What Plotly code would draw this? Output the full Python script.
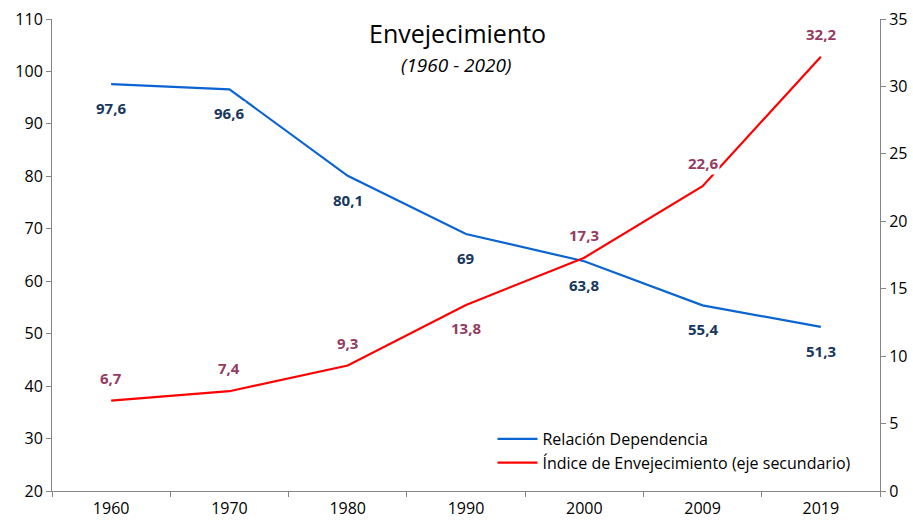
import plotly.graph_objects as go

# Series data
years = ["1960", "1970", "1980", "1990", "2000", "2009", "2019"]
dependencia = [97.6, 96.6, 80.1, 69, 63.8, 55.4, 51.3]
envejecimiento = [6.7, 7.4, 9.3, 13.8, 17.3, 22.6, 32.2]
dep_labels = ["97,6", "96,6", "80,1", "69", "63,8", "55,4", "51,3"]
env_labels = ["6,7", "7,4", "9,3", "13,8", "17,3", "22,6", "32,2"]
# label placement relative to its point: +1 above, -1 below
env_side = [1, 1, 1, -1, 1, 1, 1]

FONT = "Open Sans"
AXIS_GREY = "#868686"
BLUE = "#0A64D2"
RED = "#FF0000"
BLUE_TXT = "#17375E"
RED_TXT = "#943C64"

TOP, BOTTOM = 19, 491  # plot area edges in px
PLOT_H = BOTTOM - TOP


def paper_y(px):
    return 1 - (px - TOP) / PLOT_H


fig = go.Figure()
fig.add_trace(go.Scatter(
    x=years, y=dependencia, mode="lines", name="Relación Dependencia",
    line=dict(color=BLUE, width=2.2), yaxis="y"))
fig.add_trace(go.Scatter(
    x=years, y=envejecimiento, mode="lines",
    name="Índice de Envejecimiento (eje secundario)",
    line=dict(color=RED, width=2.2), yaxis="y2"))

annotations = []
# category positions are addressed by index so numeric-looking names stay categorical
for i, (v, t) in enumerate(zip(dependencia, dep_labels)):
    annotations.append(dict(
        x=i, y=v, xref="x", yref="y", text=t, showarrow=False,
        yshift=-24, bgcolor="white", borderpad=1,
        font=dict(family=FONT, size=15, color=BLUE_TXT, weight="bold")))
for i, (v, t, s) in enumerate(zip(envejecimiento, env_labels, env_side)):
    annotations.append(dict(
        x=i, y=v, xref="x", yref="y2", text=t, showarrow=False,
        yshift=23 * s, bgcolor="white", borderpad=1,
        font=dict(family=FONT, size=15, color=RED_TXT, weight="bold")))

annotations.append(dict(
    x=0.49, y=paper_y(33), xref="paper", yref="paper", yanchor="middle",
    text="Envejecimiento", showarrow=False,
    font=dict(family=FONT, size=25, color="#000000")))
annotations.append(dict(
    x=0.488, y=paper_y(65), xref="paper", yref="paper", yanchor="middle",
    text="<i>(1960 - 2020)</i>", showarrow=False,
    font=dict(family=FONT, size=19, color="#000000")))

fig.update_layout(
    width=913, height=522,
    margin=dict(l=52, r=33, t=TOP, b=522 - BOTTOM),
    paper_bgcolor="white", plot_bgcolor="white",
    font=dict(family=FONT, size=14, color="#000000"),
    showlegend=True,
    legend=dict(x=0.532, y=paper_y(422), xanchor="left", yanchor="top",
                bgcolor="rgba(0,0,0,0)", font=dict(family=FONT, size=16),
                tracegroupgap=0, itemwidth=40),
    annotations=annotations,
    xaxis=dict(type="category", range=[-0.5, 6.5], showgrid=False,
               automargin=False,
               showline=True, linecolor=AXIS_GREY, linewidth=1,
               ticks="outside", tickson="boundaries", ticklen=5,
               tickcolor=AXIS_GREY, tickfont=dict(size=16),
               ticklabelstandoff=3),
    yaxis=dict(range=[20, 110], dtick=10, showgrid=False, zeroline=False,
               automargin=False,
               showline=True, linecolor=AXIS_GREY, linewidth=1,
               ticks="outside", ticklen=5, tickcolor=AXIS_GREY,
               tickfont=dict(size=16)),
    yaxis2=dict(range=[0, 35], dtick=5, overlaying="y", side="right",
                automargin=False,
                showgrid=False, zeroline=False, showline=True,
                linecolor=AXIS_GREY, linewidth=1, ticks="outside",
                ticklen=5, tickcolor=AXIS_GREY, tickfont=dict(size=16)),
)

fig.write_html("out.html")
